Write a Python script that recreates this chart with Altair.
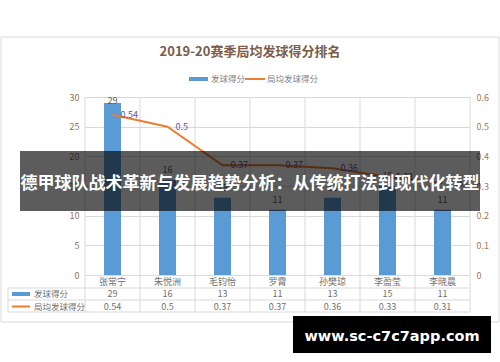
import altair as alt
import pandas as pd

names = ["张常宁", "朱悦洲", "毛钧怡", "罗霄", "孙樊琼", "李盈莹", "李晓晨"]
serve_points = [29, 16, 13, 11, 13, 15, 11]
avg_points = [0.54, 0.5, 0.37, 0.37, 0.36, 0.33, 0.31]
title_text = ["2019-20赛季局均发球得分排名"]
series_names = ["发球得分", "局均发球得分"]
left_ticks = [0, 5, 10, 15, 20, 25, 30]
right_ticks = [0, 0.1, 0.2, 0.3, 0.4, 0.5, 0.6]
banner_text = ["德甲球队战术革新与发展趋势分析：从传统打法到现代化转型"]
watermark_text = ["www.sc-c7c7app.com"]

FONT = "Noto Sans CJK SC"
BLUE = "#5b9bd5"
ORANGE = "#ed7d31"
GRID = "#d9d9d9"
TXT = "#6f6f6f"

df = pd.DataFrame({"name": names, "serve": serve_points, "avg": avg_points})
one = pd.DataFrame({"k": [0]})

xscale = alt.Scale(paddingInner=0, paddingOuter=0)
x_enc = alt.X("name:N", sort=names, scale=xscale, axis=None)
y_serve_scale = alt.Scale(domain=[0, 30])
y_avg_scale = alt.Scale(domain=[0, 0.6])

base = alt.Chart(df)
single = alt.Chart(one)

# outer border
border = single.mark_rect(fill=None, stroke=GRID, strokeWidth=1).encode(
    x=alt.value(-84), x2=alt.value(414), y=alt.value(-60), y2=alt.value(225)
)

# vertical column lines (through plot and table)
vlines = base.mark_rule(color=GRID).encode(
    x=alt.X("name:N", sort=names, scale=xscale, axis=None, bandPosition=0),
    y=alt.value(0), y2=alt.value(215),
)
vright = single.mark_rule(color=GRID).encode(
    x=alt.value(385), y=alt.value(0), y2=alt.value(215)
)
vleft_table = single.mark_rule(color=GRID).encode(
    x=alt.value(-77), y=alt.value(191), y2=alt.value(215)
)
h1 = single.mark_rule(color=GRID).encode(x=alt.value(-77), x2=alt.value(385), y=alt.value(191))
h2 = single.mark_rule(color=GRID).encode(x=alt.value(-77), x2=alt.value(385), y=alt.value(203))
h3 = single.mark_rule(color=GRID).encode(x=alt.value(-77), x2=alt.value(385), y=alt.value(215))

bars = base.mark_bar(size=17, color=BLUE).encode(
    x=x_enc,
    y=alt.Y(
        "serve:Q", scale=y_serve_scale,
        axis=alt.Axis(values=left_ticks, grid=True, gridColor=GRID, domain=False,
                      ticks=False, labelColor="#8a7060", labelFontSize=9,
                      labelPadding=6, title=None),
    ),
)
# labels sit above bars, kept inside the plot area (as the spreadsheet does)
bar_labels = base.transform_calculate(
    ly="min(datum.serve + 1.65, 29.4)"
).mark_text(fontSize=9, color="#595959").encode(
    x=x_enc,
    y=alt.Y("ly:Q", scale=y_serve_scale, axis=None),
    text="serve:Q",
)
line = base.mark_line(color=ORANGE, strokeWidth=2).encode(
    x=x_enc,
    y=alt.Y(
        "avg:Q", scale=y_avg_scale,
        axis=alt.Axis(orient="right", values=right_ticks, format="~g", grid=False,
                      domain=False, ticks=False, labelColor="#a0785a",
                      labelFontSize=9, labelPadding=6, title=None),
    ),
)
line_labels = base.mark_text(align="left", dx=8, fontSize=9, color="#6a4fa0").encode(
    x=x_enc,
    y=alt.Y("avg:Q", scale=y_avg_scale, axis=None),
    text=alt.Text("avg:Q", format="~g"),
)

# table rows
cat_text = base.mark_text(fontSize=9, color=TXT).encode(
    x=x_enc, y=alt.value(184.5), text="name:N"
)
serve_text = base.mark_text(fontSize=9, color=TXT).encode(
    x=x_enc, y=alt.value(197), text="serve:Q"
)
avg_text = base.mark_text(fontSize=9, color=TXT).encode(
    x=x_enc, y=alt.value(209.5), text=alt.Text("avg:Q", format="~g")
)
key1 = single.mark_rect(color=BLUE).encode(
    x=alt.value(-73), x2=alt.value(-55), y=alt.value(195), y2=alt.value(199)
)
key2 = single.mark_rule(color=ORANGE, strokeWidth=2).encode(
    x=alt.value(-73), x2=alt.value(-55), y=alt.value(209.5)
)
row1 = single.mark_text(align="left", fontSize=8.5, color=TXT).encode(
    x=alt.value(-51), y=alt.value(197), text=alt.value(series_names[0])
)
row2 = single.mark_text(align="left", fontSize=8.5, color=TXT).encode(
    x=alt.value(-51), y=alt.value(209.5), text=alt.value(series_names[1])
)

# title and legend
title = single.mark_text(fontSize=13, fontWeight="bold", color="#7a5c48").encode(
    x=alt.value(165), y=alt.value(-45), text=alt.value(title_text[0])
)
leg1 = single.mark_rect(color=BLUE).encode(
    x=alt.value(104), x2=alt.value(123), y=alt.value(-20), y2=alt.value(-16)
)
leg1t = single.mark_text(align="left", fontSize=8.5, color="#7f7f7f").encode(
    x=alt.value(126), y=alt.value(-18), text=alt.value(series_names[0])
)
leg2 = single.mark_rule(color=ORANGE, strokeWidth=2).encode(
    x=alt.value(160), x2=alt.value(180), y=alt.value(-18)
)
leg2t = single.mark_text(align="left", fontSize=8.5, color="#7f7f7f").encode(
    x=alt.value(182), y=alt.value(-18), text=alt.value(series_names[1])
)

# overlays
banner = single.mark_rect(color="#000000", opacity=0.64).encode(
    x=alt.value(-65), x2=alt.value(395), y=alt.value(54), y2=alt.value(114)
)
banner_t = single.mark_text(fontSize=17, fontWeight="bold", color="white").encode(
    x=alt.value(165), y=alt.value(87), text=alt.value(banner_text[0])
)
wm = single.mark_rect(color="#000000").encode(
    x=alt.value(208), x2=alt.value(406), y=alt.value(219), y2=alt.value(256)
)
wm_t = single.mark_text(fontSize=14.5, fontWeight="bold", color="white",
                        font="DejaVu Sans").encode(
    x=alt.value(307), y=alt.value(240), text=alt.value(watermark_text[0])
)

chart = alt.layer(
    border, vlines, vright, vleft_table, h1, h2, h3,
    bars, bar_labels, line, line_labels,
    cat_text, serve_text, avg_text, key1, key2, row1, row2,
    title, leg1, leg1t, leg2, leg2t,
    banner, banner_t, wm, wm_t,
).resolve_scale(y="independent").properties(
    width=385, height=178,
    padding={"left": 85, "top": 97, "right": 30, "bottom": 87},
    autosize=alt.AutoSizeParams(type="none"),
    background="white",
).configure(font=FONT).configure_view(stroke=None)

chart.save("out.html", embed_options={"renderer": "svg", "actions": False})
